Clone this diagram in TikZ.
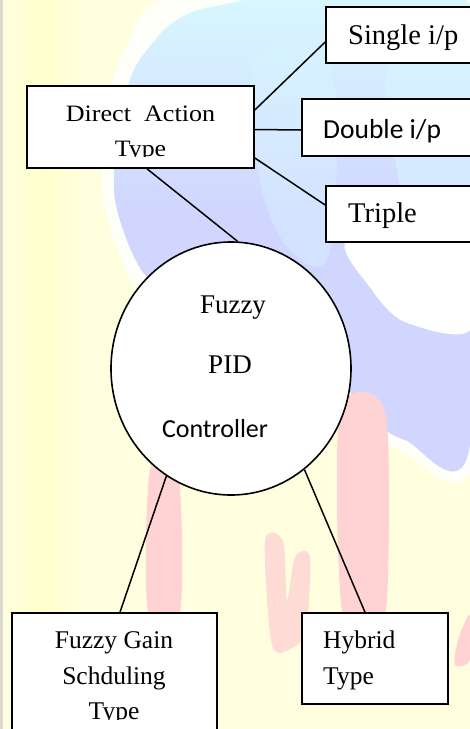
\documentclass[tikz,border=0pt]{standalone}
\usepackage{fontspec}
\setmainfont{Liberation Serif}
\newfontfamily\calib{Carlito}
\usetikzlibrary{shapes.geometric,calc}
\definecolor{bgyellow}{HTML}{FFFFE0}
\definecolor{deepyellow}{HTML}{FFFFCC}
\definecolor{lav}{HTML}{D1D6FF}
\definecolor{cyanbg}{HTML}{D8F7FF}
\definecolor{pinkbg}{HTML}{FFD3D3}
\definecolor{edgegray}{HTML}{DDD8CC}
\tikzset{
  box/.style={draw=black, line width=1.6pt, fill=white, rectangle, inner sep=0pt},
  circ/.style={draw=black, line width=1.6pt, fill=white, ellipse, inner sep=0pt},
  tx/.style={inner sep=0pt, text=black},
  conn/.style={draw=black, line width=1.5pt},
  serif26/.style={font=\fontsize{25.5}{30}\selectfont},
  serif28/.style={font=\fontsize{28.5}{32}\selectfont},
  serif27/.style={font=\fontsize{27}{32}\selectfont},
  sans27/.style={font=\calib\fontsize{27.5}{32}\selectfont},
  sans26/.style={font=\calib\fontsize{26}{30}\selectfont},
  dirfont/.style={font=\fontsize{23.5}{26}\selectfont}
}
\begin{document}
\begin{tikzpicture}[x=1pt,y=-1pt]
\useasboundingbox (0,0) rectangle (470,729);
% background watermark
\fill[bgyellow] (0,0) rectangle (470,729);
\shade[left color=bgyellow, right color=deepyellow] (4,0) rectangle (40,729);
\shade[left color=deepyellow, right color=bgyellow] (40,0) rectangle (90,729);
\fill[edgegray] (0,0) rectangle (3,729);
% white halo around the globe
\fill[white, opacity=0.85] plot[smooth cycle, tension=0.5] coordinates {(180,-5) (475,-5) (475,455) (400,450) (352,418) (330,370) (300,310) (200,310) (135,285) (104,200) (106,115) (125,50)};
% globe
\begin{scope}
\clip plot[smooth cycle, tension=0.5] coordinates {(215,6) (470,4) (470,445) (405,440) (362,412) (340,370) (300,300) (200,300) (145,275) (115,200) (120,120) (143,55)};
\shade[top color=cyanbg, bottom color=lav] (60,0) rectangle (470,210);
\fill[lav] (60,209) rectangle (470,520);
\end{scope}
\fill[cyanbg, opacity=0.5] plot[smooth cycle, tension=0.6] coordinates {(390,60) (470,40) (470,240) (420,235) (395,160)};
\fill[cyanbg, opacity=0.4] plot[smooth cycle, tension=0.6] coordinates {(255,60) (330,60) (330,250) (290,250) (260,180)};
\fill[white] plot[smooth cycle, tension=0.5] coordinates {(348,240) (470,240) (470,330) (405,322) (372,290)};
% pink letters
\fill[pinkbg] plot[smooth cycle, tension=0.5] coordinates {(150,470) (178,470) (180,612) (148,612)};
\fill[pinkbg] plot[smooth cycle, tension=0.5] coordinates {(340,412) (385,412) (387,600) (372,612) (342,612)};
\fill[pinkbg, opacity=0.8] plot[smooth cycle, tension=0.5] coordinates {(265,541) (283,541) (287,600) (295,557) (310,557) (306,630) (292,648) (272,645)};
\fill[pinkbg] plot[smooth cycle, tension=0.5] coordinates {(470,615) (470,660) (455,665) (458,640)};

% boxes
\node[box, minimum width=154pt, minimum height=56pt] (single) at (403,35) {};
\node[box, minimum width=178pt, minimum height=57pt] (double) at (391,127.5) {};
\node[box, minimum width=154pt, minimum height=56pt] (triple) at (403,214) {};
\node[box, minimum width=227pt, minimum height=82pt] (direct) at (140.5,127) {};
\node[circ, minimum width=240pt, minimum height=253pt] (fpid) at (231,368.5) {};
\node[box, minimum width=205pt, minimum height=130pt] (gain) at (114.5,678) {};
\node[box, minimum width=146pt, minimum height=91pt] (hybrid) at (375,658.5) {};

% connectors
\draw[conn] ([yshift=17pt]direct.east) -- ([yshift=-7pt]single.west);
\draw[conn] ([yshift=-2.5pt]direct.east) -- ([yshift=-2.5pt]double.west);
\draw[conn] ([yshift=-31pt]direct.east) -- ([yshift=9pt]triple.west);
\draw[conn] ([xshift=6.5pt]direct.south) -- (fpid.87);
\draw[conn] (fpid.239) -- ([xshift=5.5pt]gain.north);
\draw[conn] (fpid.306) -- ([xshift=-10pt]hybrid.north);

% texts
\node[tx, serif28, anchor=base west] (tsingle) at (348,44) {Single i/p};
\node[tx, sans27, anchor=base west] (tdouble) at (323,138) {Double i/p};
\node[tx, serif28, anchor=base west] (ttriple) at (348,222) {Triple};
\begin{scope}
\clip (27,86) rectangle (254,156);
\node[tx, dirfont, anchor=base] (tdirect1) at (140.5,121.5) {\scalebox{1.11}[1]{Direct\ \ Action}};
\node[tx, dirfont, anchor=base] (tdirect2) at (140.5,156) {\scalebox{1.1}[1]{Type}};
\end{scope}
\node[tx, serif27, anchor=base] (tfuzzy) at (233,313) {Fuzzy};
\node[tx, serif27, anchor=base] (tpid) at (230,373) {PID};
\node[tx, sans26, anchor=base] (tctrl) at (215,437) {Controller};
\node[tx, serif26, anchor=base] (tgain1) at (114,648) {Fuzzy Gain};
\node[tx, serif26, anchor=base] (tgain2) at (114,684) {Schduling};
\begin{scope}
\clip (12,613) rectangle (217,719);
\node[tx, serif26, anchor=base] (tgain3) at (114,719) {Type};
\end{scope}
\node[tx, serif26, anchor=base west] (thyb1) at (323,648) {Hybrid};
\node[tx, serif26, anchor=base west] (thyb2) at (323,684) {Type};
\end{tikzpicture}
\end{document}
